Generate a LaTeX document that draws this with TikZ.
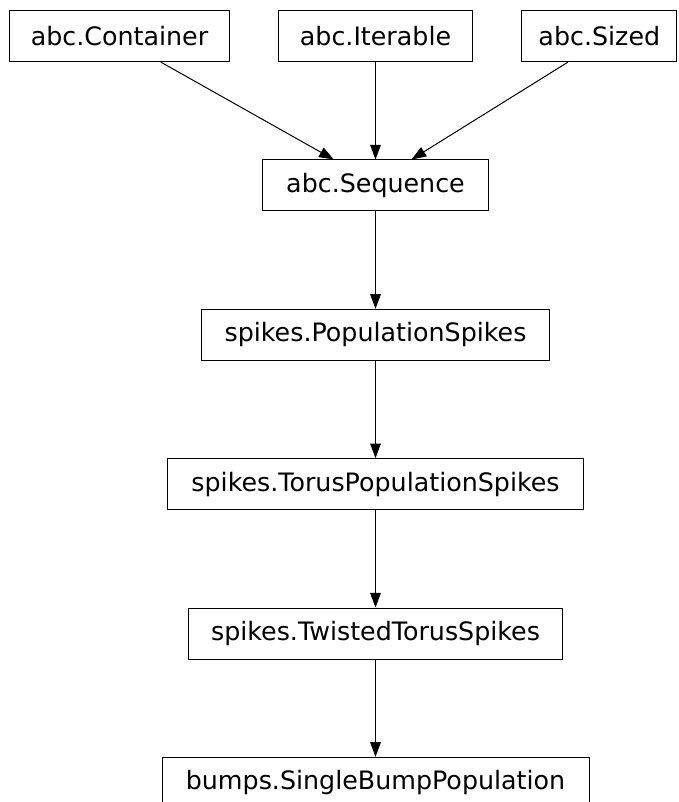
\documentclass[tikz,border=0pt]{standalone}
\usepackage{fontspec}
\setmainfont{DejaVu Sans}
\usetikzlibrary{arrows.meta}
\begin{document}
\begin{tikzpicture}[x=0.75pt,y=-0.75pt,
  cls/.style={draw, line width=0.75pt, minimum height=38.25pt, inner sep=0pt, font=\fontsize{19}{22}\selectfont},
  inh/.style={-{Triangle[length=11pt,width=8pt]}, line width=0.75pt}]
\useasboundingbox (0,0) rectangle (678,802);
\node[cls, minimum width=165.3pt] (cont) at (119.5,36.2) {abc.Container};
\node[cls, minimum width=145.5pt] (iter) at (375.5,36.2) {abc.Iterable};
\node[cls, minimum width=116.25pt] (sized) at (599.3,36.2) {abc.Sized};
\node[cls, minimum width=169pt] (seq) at (375.5,185.5) {abc.Sequence};
\node[cls, minimum width=260.7pt] (pop) at (375.5,334.8) {spikes.PopulationSpikes};
\node[cls, minimum width=311.7pt] (torus) at (375.5,484.2) {spikes.TorusPopulationSpikes};
\node[cls, minimum width=280.5pt] (twist) at (375.5,633.5) {spikes.TwistedTorusSpikes};
\node[cls, minimum width=320.25pt] (bump) at (375.5,782.8) {bumps.SingleBumpPopulation};
\draw[inh] ([xshift=31.1pt]cont.south) -- ([xshift=-31.3pt]seq.north);
\draw[inh] (iter.south) -- (seq.north);
\draw[inh] ([xshift=-23.6pt]sized.south) -- ([xshift=27pt]seq.north);
\draw[inh] (seq) -- (pop);
\draw[inh] (pop) -- (torus);
\draw[inh] (torus) -- (twist);
\draw[inh] (twist) -- (bump);
\end{tikzpicture}
\end{document}
